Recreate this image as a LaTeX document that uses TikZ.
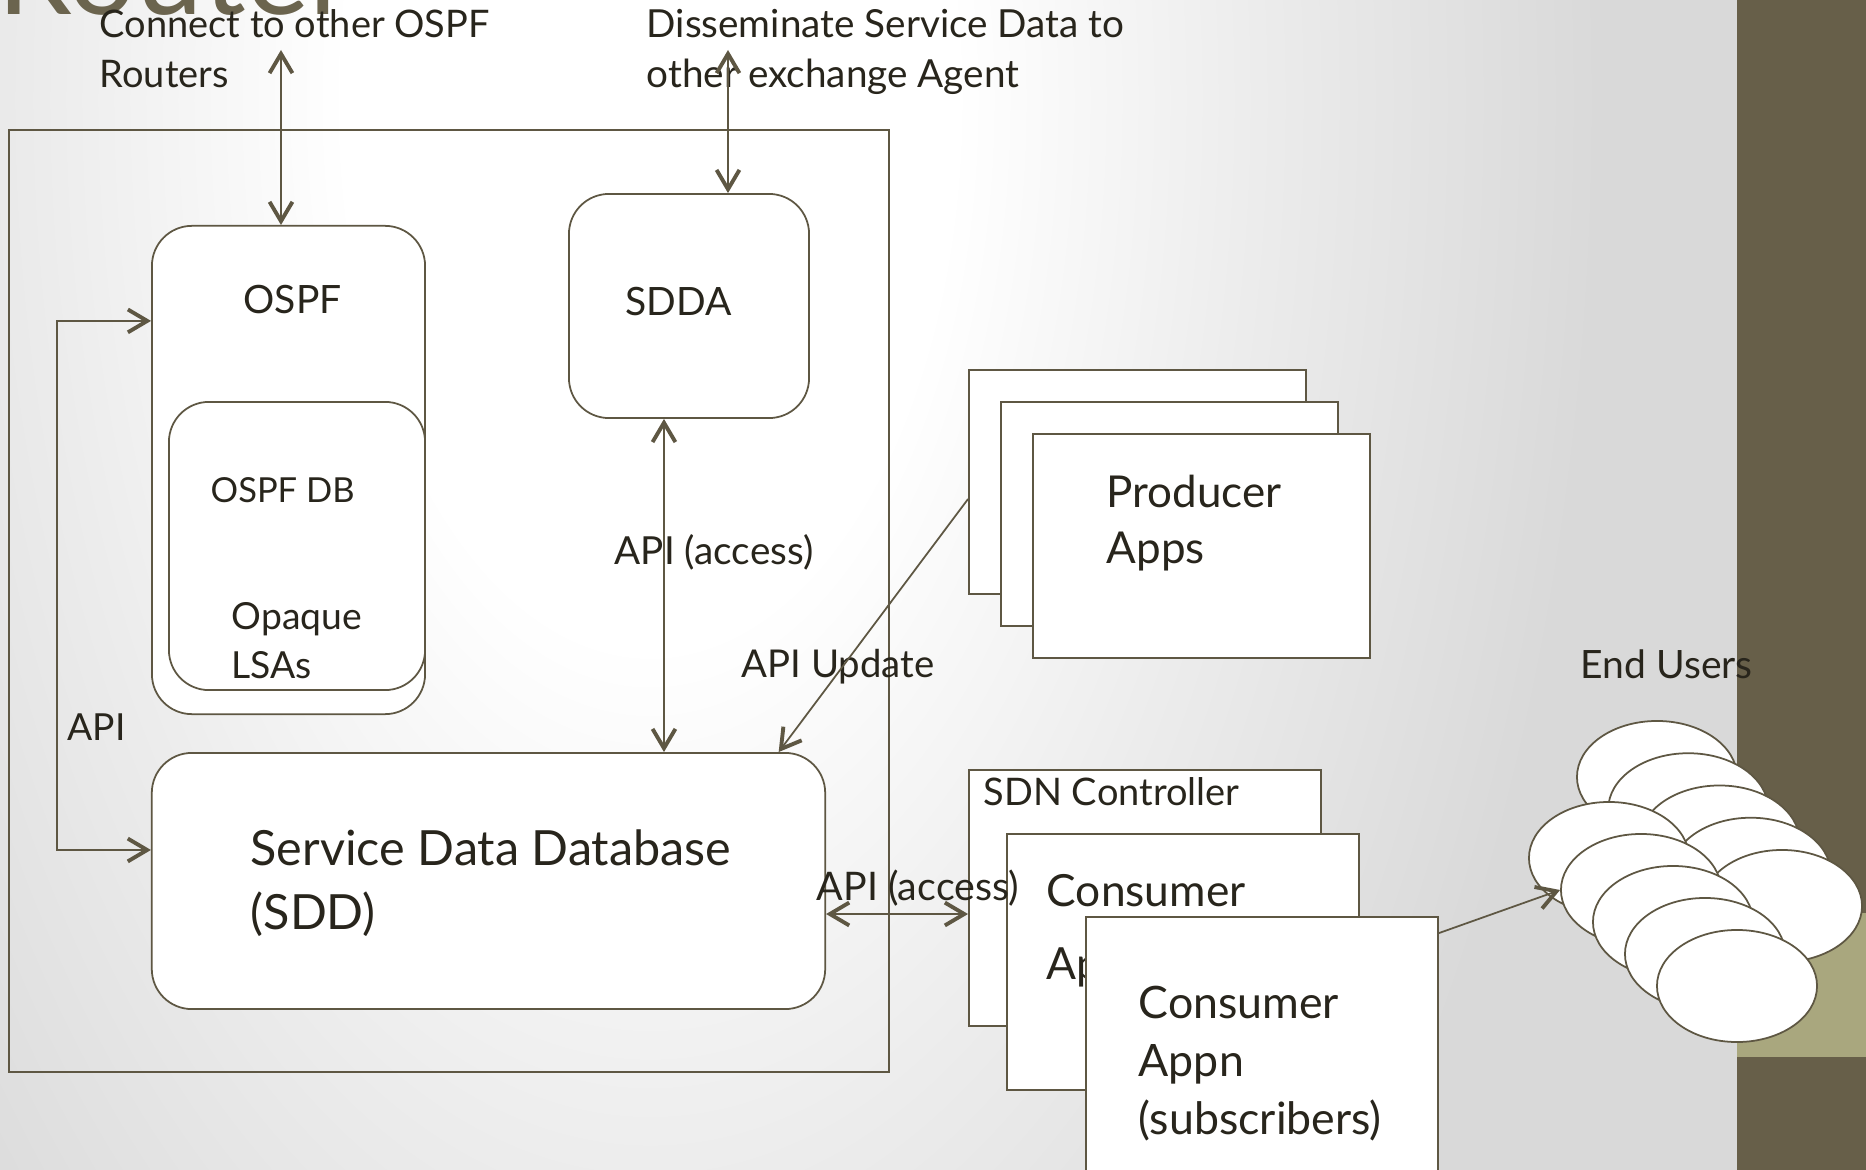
\documentclass[tikz,border=0pt]{standalone}
\usepackage{fontspec}
\setmainfont{Lato}
\usetikzlibrary{arrows.meta, shapes.geometric}

\definecolor{linecol}{RGB}{94,87,67}
\definecolor{textcol}{RGB}{40,37,28}
\definecolor{titlecol}{RGB}{107,100,78}
\definecolor{stripcol}{RGB}{103,95,73}
\definecolor{bandcol}{RGB}{169,167,126}
\definecolor{bggray}{RGB}{217,217,217}
\definecolor{bgmid}{RGB}{236,236,236}

\pgfdeclareradialshading{slidebg}{\pgfpoint{0bp}{0bp}}{color(0bp)=(white); color(8bp)=(white); color(16bp)=(bgmid); color(25bp)=(bggray); color(50bp)=(bggray)}

\tikzset{
  rbox/.style={draw=linecol, fill=white, line width=0.5pt, rounded corners=0.4cm, inner sep=0pt},
  sbox/.style={draw=linecol, fill=white, line width=0.5pt, inner sep=0pt},
  user/.style={ellipse, draw=linecol, fill=white, line width=0.5pt, minimum width=1.6cm, minimum height=1.12cm, inner sep=0pt},
  lbl/.style={text=textcol, inner sep=0pt, anchor=base west, font=\fontsize{11}{13}\selectfont},
  mlbl/.style={text=textcol, inner sep=0pt, anchor=north west, align=left},
  link/.style={draw=linecol, line width=0.5pt},
}

\begin{document}
\begin{tikzpicture}[x=0.01cm, y=-0.01cm, >={Straight Barb[length=5.5pt, width=6.5pt, line width=1.1pt]}]
\useasboundingbox (0,0) rectangle (1866,1170);
\clip (0,0) rectangle (1866,1170);
% slide background
\fill[bggray] (0,0) rectangle (1866,1170);
\shade[shading=slidebg] (-300,-1600) rectangle (1600,1800);
\fill[stripcol] (1737,0) rectangle (1866,1170);
\fill[bandcol] (1737,913) rectangle (1866,1057);
\node[text=titlecol, inner sep=0pt, anchor=base west, font=\fontsize{34}{34}\selectfont] (title) at (-3,15) {Router};
% router frame
\node[sbox, fill=none, minimum width=8.795cm, minimum height=9.42cm] (router) at (449.25,601) {};
% OSPF
\node[rbox, minimum width=2.73cm, minimum height=4.88cm] (ospf) at (288.5,470) {};
\node[rbox, minimum width=2.56cm, minimum height=2.88cm] (ospfdb) at (297,546) {};
\node[lbl, font=\fontsize{11.1}{13}\selectfont] (ospflbl) at (243,314) {OSPF};
\node[lbl, font=\fontsize{9.8}{12}\selectfont] (dblbl) at (210,502) {OSPF DB};
\node[mlbl, font=\fontsize{10.6}{14}\selectfont] (lsalbl) at (231,602) {Opaque\\LSAs};
% SDDA and SDD
\node[rbox, minimum width=2.4cm, minimum height=2.24cm] (sdda) at (689,306) {};
\node[lbl, font=\fontsize{11.1}{13}\selectfont] (sddalbl) at (625,315) {SDDA};
\node[rbox, minimum width=6.73cm, minimum height=2.56cm] (sdd) at (488.5,881) {};
\node[mlbl, font=\fontsize{13.8}{18.2}\selectfont] (sddlbl) at (250,829) {Service Data Database\\(SDD)};
% producer apps
\foreach \i in {0,1,2}
  \node[sbox, minimum width=3.37cm, minimum height=2.24cm] (prod\i) at ({1137.5+32*\i},{482+32*\i}) {};
\node[mlbl, font=\fontsize{12.5}{16}\selectfont] (prodlbl) at (1106,474) {Producer\\Apps};
% SDN controller and consumers
\node[sbox, minimum width=3.52cm, minimum height=2.56cm] (sdn) at (1145,898) {};
\node[lbl, font=\fontsize{10.8}{12}\selectfont] (sdnlbl) at (983,805) {SDN Controller};
\node[sbox, minimum width=3.52cm, minimum height=2.56cm] (cons2) at (1183,962) {};
\node[mlbl, font=\fontsize{12.6}{20.8}\selectfont] (cons2lbl) at (1046,874) {Consumer\\Apps};
\node[sbox, minimum width=3.52cm, minimum height=2.56cm] (cons3) at (1262,1045) {};
\node[mlbl, font=\fontsize{12.7}{16.5}\selectfont] (cons3lbl) at (1138,985) {Consumer\\Appn\\(subscribers)};
% end users
\foreach \i in {0,...,4}
  \node[user] (back\i) at ({1657+31.25*\i},{777+32.25*\i}) {};
\foreach \i in {0,...,4}
  \node[user] (front\i) at ({1609+32*\i},{858+32*\i}) {};
\node[lbl, font=\fontsize{11.1}{13}\selectfont] (userlbl) at (1580,678) {End Users};
% notes and labels
\node[mlbl, font=\fontsize{10.8}{14.2}\selectfont] (ospfnote) at (99,9) {Connect to other OSPF\\Routers};
\node[mlbl, font=\fontsize{11}{14.2}\selectfont] (sddanote) at (646,9) {Disseminate Service Data to\\other exchange Agent};
\node[lbl] (accesslbl) at (614,564) {API (access)};
\node[lbl, font=\fontsize{10.9}{13}\selectfont] (updatelbl) at (741,677) {API Update};
\node[lbl, font=\fontsize{10.6}{13}\selectfont] (apilbl) at (67,740) {API};
\node[lbl, font=\fontsize{11.2}{13}\selectfont] (access2lbl) at (816,900) {API (access)};
% connectors
\coordinate (ospfext) at (281,50);
\coordinate (sddaext) at (728,50);
\coordinate (loopx) at (57,0);
\coordinate (apitop) at ([yshift=1.49cm]ospf.west);
\coordinate (apibot) at ([yshift=0.31cm]sdd.west);
\coordinate (accL) at ([yshift=-0.33cm]sdd.east);
\coordinate (consout) at ([yshift=-0.17cm]cons3.north east);
\draw[link, <->] (ospfext) -- (ospfext |- ospf.north);
\draw[link, <->] (sddaext) -- (sddaext |- sdda.north);
\draw[link, <->] ([xshift=-0.25cm]sdda.south) -- ([xshift=-0.25cm]sdd.north -| sdda.south);
\draw[link, <->] (apitop) -- (apitop -| loopx) |- (apibot);
\draw[link, ->] ([yshift=-0.17cm]prod0.west) -- ([xshift=2.9cm]sdd.north);
\draw[link, <->] (accL) -- (accL -| sdn.west);
\draw[link, ->] (consout) -- (front1.west);
\end{tikzpicture}
\end{document}
